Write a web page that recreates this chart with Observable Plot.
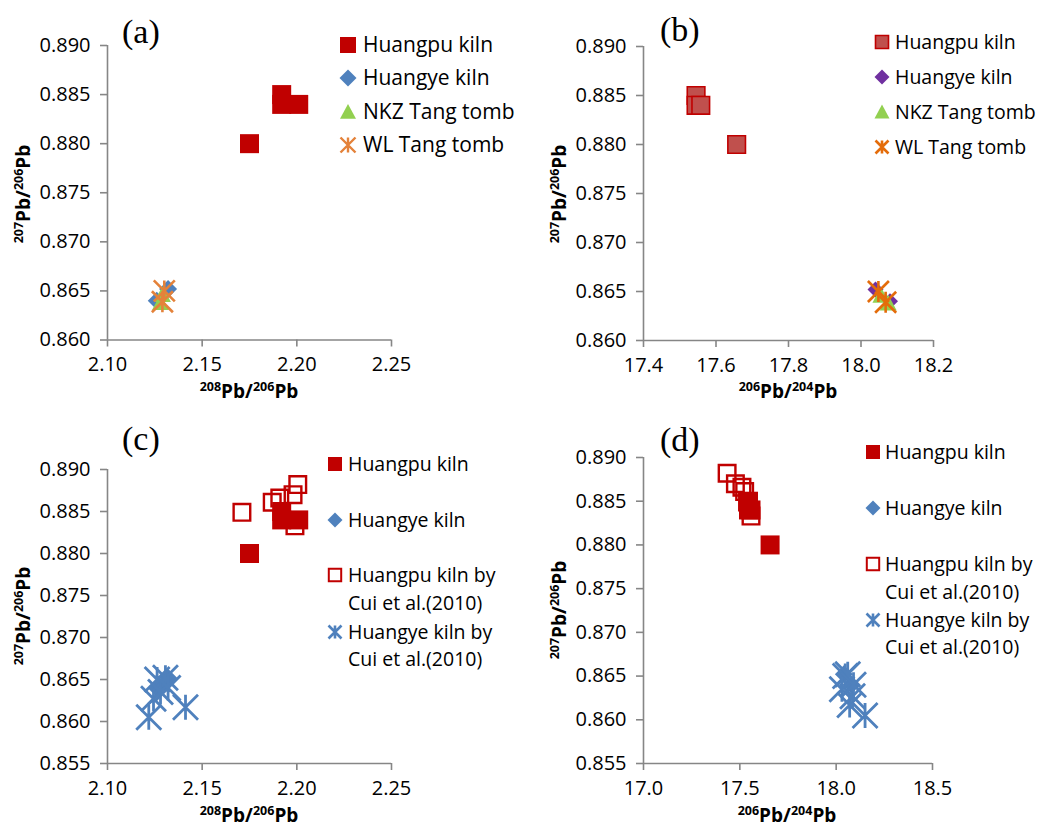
<!DOCTYPE html>
<html><head><meta charset="utf-8">
<script src="https://cdn.jsdelivr.net/npm/d3@7"></script>
<script src="https://cdn.jsdelivr.net/npm/@observablehq/plot@0.6"></script>
<style>
body{margin:0;background:#fff;}
#root{position:relative;width:1037px;height:827px;overflow:hidden;background:#fff;}
#root svg.plotpanel{position:absolute;overflow:visible;}
</style></head>
<body><div id="root"></div>
<script>
// ---------- data ----------
// own samples: 208Pb/206Pb, 206Pb/204Pb, 207Pb/206Pb
const huangpu208 = [2.175, 2.192, 2.192, 2.201];
const huangpu64  = [17.657, 17.545, 17.545, 17.558];
const huangpu76  = [0.8800, 0.8850, 0.8840, 0.8840];

const huangye208 = [2.132, 2.126];
const huangye64  = [18.040, 18.080];
const huangye76  = [0.8652, 0.8640];

const nkz208 = [2.129, 2.128];
const nkz64  = [18.055, 18.075];
const nkz76  = [0.8646, 0.8638];

const wl208 = [2.130, 2.129];
const wl64  = [18.048, 18.068];
const wl76  = [0.8650, 0.8639];

// Cui et al. (2010)
const cuiHuangpu208 = [2.171, 2.187, 2.191, 2.198, 2.2005, 2.199];
const cuiHuangpu64  = [17.540, 17.525, 17.511, 17.477, 17.434, 17.558];
const cuiHuangpu76  = [0.8849, 0.8861, 0.8866, 0.8870, 0.8882, 0.8833];

const cuiHuangye208 = [2.1218, 2.1412, 2.1243, 2.1262, 2.1306, 2.1280, 2.1320];
const cuiHuangye64  = [18.150, 18.070, 18.085, 18.047, 18.060, 18.030, 18.090];
const cuiHuangye76  = [0.8605, 0.8617, 0.8627, 0.8650, 0.8652, 0.8635, 0.8640];

// axes
const ticks208   = [2.10, 2.15, 2.20, 2.25];
const ticks64ab  = [17.4, 17.6, 17.8, 18.0, 18.2];
const ticks64cd  = [17.0, 17.5, 18.0, 18.5];
const ticks76ab  = [0.860, 0.865, 0.870, 0.875, 0.880, 0.885, 0.890];
const ticks76cd  = [0.855, 0.860, 0.865, 0.870, 0.875, 0.880, 0.885, 0.890];

const legendAB = ["Huangpu kiln", "Huangye kiln", "NKZ Tang tomb", "WL Tang tomb"];
const legendCD = [["Huangpu kiln"], ["Huangye kiln"], ["Huangpu kiln by", "Cui et al.(2010)"], ["Huangye kiln by", "Cui et al.(2010)"]];
const panelLabels = ["(a)", "(b)", "(c)", "(d)"];
const titleX = [["208", "Pb/"], ["206", "Pb"]];
const titleX2 = [["206", "Pb/"], ["204", "Pb"]];
const titleY = [["207", "Pb/"], ["206", "Pb"]];

// ---------- build tables ----------
const table = (a, b, c) => a.map((v, i) => ({r86: v, r64: b[i], r76: c[i]}));
const huangpu = table(huangpu208, huangpu64, huangpu76);
const huangye = table(huangye208, huangye64, huangye76);
const nkz = table(nkz208, nkz64, nkz76);
const wl = table(wl208, wl64, wl76);
const cuiHuangpu = table(cuiHuangpu208, cuiHuangpu64, cuiHuangpu76);
const cuiHuangye = table(cuiHuangye208, cuiHuangye64, cuiHuangye76);

// ---------- Excel-like symbols (r = half size) ----------
const half = s => Math.sqrt(s / Math.PI);
const SQ = {draw(c, s) { const h = half(s); c.moveTo(-h, -h); c.lineTo(h, -h); c.lineTo(h, h); c.lineTo(-h, h); c.closePath(); }};
const DI = {draw(c, s) { const h = half(s); c.moveTo(0, -h); c.lineTo(h, 0); c.lineTo(0, h); c.lineTo(-h, 0); c.closePath(); }};
const TR = {draw(c, s) { const h = half(s); c.moveTo(0, -h); c.lineTo(h, h * 0.85); c.lineTo(-h, h * 0.85); c.closePath(); }};
const ST = {draw(c, s) { const h = half(s); c.moveTo(-h, -h); c.lineTo(h, h); c.moveTo(-h, h); c.lineTo(h, -h); c.moveTo(0, -h); c.lineTo(0, h); }};

const GRAY = "#868686";
const root = document.getElementById("root");

function panel(o) {
  const svg = Plot.plot({
    width: o.width, height: o.height,
    marginLeft: o.ml, marginRight: o.mr, marginTop: o.mt, marginBottom: o.mb,
    x: {domain: o.xDomain}, y: {domain: o.yDomain},
    style: {fontFamily: "Open Sans", fontSize: "20px", color: "#000", background: "transparent", overflow: "visible"},
    marks: [
      Plot.ruleY([o.yDomain[0]], {x1: o.xDomain[0], x2: o.xDomain[1], stroke: GRAY, strokeWidth: 1.6}),
      Plot.ruleX([o.xDomain[0]], {y1: o.yDomain[0], y2: o.yDomain[1], stroke: GRAY, strokeWidth: 1.6}),
      Plot.axisX({ticks: o.xTicks, tickFormat: d3.format(o.xFmt), tickSize: 7, tickPadding: 10, stroke: GRAY, strokeWidth: 1.6, fill: "#000", label: null, fontSize: 20}),
      Plot.axisY({ticks: o.yTicks, tickFormat: d3.format(".3f"), tickSize: 7, tickPadding: 10, stroke: GRAY, strokeWidth: 1.6, fill: "#000", label: null, fontSize: 20}),
      ...o.marks
    ]
  });
  svg.classList.add("plotpanel");
  svg.style.left = o.left + "px";
  svg.style.top = o.top + "px";
  root.appendChild(svg);
}

// (a)
panel({left: 0, top: 0, width: 520, height: 410, ml: 107, mr: 129, mt: 45, mb: 70.5,
  xDomain: [2.10, 2.25], yDomain: [0.860, 0.890], xTicks: ticks208, yTicks: ticks76ab, xFmt: ".2f",
  marks: [
    Plot.dot(huangpu, {x: "r86", y: "r76", symbol: SQ, r: 9.5, fill: "#C00000", stroke: "none"}),
    Plot.dot(huangye, {x: "r86", y: "r76", symbol: DI, r: 9, fill: "#4F81BD", stroke: "none"}),
    Plot.dot(nkz, {x: "r86", y: "r76", symbol: TR, r: 8.5, fill: "#92D050", stroke: "none"}),
    Plot.dot(wl, {x: "r86", y: "r76", symbol: ST, r: 10.5, fill: "none", stroke: "#E4823A", strokeWidth: 2.6})
  ]});

// (b)
panel({left: 520, top: 0, width: 517, height: 410, ml: 123, mr: 104, mt: 46, mb: 70,
  xDomain: [17.4, 18.2], yDomain: [0.860, 0.890], xTicks: ticks64ab, yTicks: ticks76ab, xFmt: ".1f",
  marks: [
    Plot.dot(huangpu, {x: "r64", y: "r76", symbol: SQ, r: 8.8, fill: "#C0504D", stroke: "#C00000", strokeWidth: 1.6}),
    Plot.dot(huangye, {x: "r64", y: "r76", symbol: DI, r: 8, fill: "#7030A0", stroke: "none"}),
    Plot.dot(nkz, {x: "r64", y: "r76", symbol: TR, r: 8.5, fill: "#92D050", stroke: "none"}),
    Plot.dot(wl, {x: "r64", y: "r76", symbol: ST, r: 10.5, fill: "none", stroke: "#E46C0A", strokeWidth: 2.6})
  ]});

// (c)
panel({left: 0, top: 410, width: 520, height: 417, ml: 107, mr: 129, mt: 59, mb: 64,
  xDomain: [2.10, 2.25], yDomain: [0.855, 0.890], xTicks: ticks208, yTicks: ticks76cd, xFmt: ".2f",
  marks: [
    Plot.dot(cuiHuangpu, {x: "r86", y: "r76", symbol: SQ, r: 8.3, fill: "none", stroke: "#C00000", strokeWidth: 2.4}),
    Plot.dot(huangpu, {x: "r86", y: "r76", symbol: SQ, r: 9.5, fill: "#C00000", stroke: "none"}),
    Plot.dot(huangye, {x: "r86", y: "r76", symbol: DI, r: 9, fill: "#4F81BD", stroke: "none"}),
    Plot.dot(cuiHuangye, {x: "r86", y: "r76", symbol: ST, r: 12.5, fill: "none", stroke: "#4F81BD", strokeWidth: 2.8})
  ]});

// (d)
panel({left: 520, top: 410, width: 517, height: 417, ml: 123, mr: 105, mt: 47, mb: 64,
  xDomain: [17.0, 18.5], yDomain: [0.855, 0.890], xTicks: ticks64cd, yTicks: ticks76cd, xFmt: ".1f",
  marks: [
    Plot.dot(cuiHuangpu, {x: "r64", y: "r76", symbol: SQ, r: 8.3, fill: "none", stroke: "#C00000", strokeWidth: 2.4}),
    Plot.dot(huangpu, {x: "r64", y: "r76", symbol: SQ, r: 9.5, fill: "#C00000", stroke: "none"}),
    Plot.dot(huangye, {x: "r64", y: "r76", symbol: DI, r: 9, fill: "#4F81BD", stroke: "none"}),
    Plot.dot(cuiHuangye, {x: "r64", y: "r76", symbol: ST, r: 12.5, fill: "none", stroke: "#4F81BD", strokeWidth: 2.8})
  ]});

// ---------- overlay: labels, titles, legends ----------
const ov = d3.select(root).append("svg")
  .attr("width", 1037).attr("height", 827)
  .style("position", "absolute").style("left", "0px").style("top", "0px")
  .style("pointer-events", "none");

// panel labels
[[122, 43], [660, 41], [122, 450], [660, 451]].forEach(([x, y], i) => {
  ov.append("text").attr("x", x).attr("y", y)
    .attr("font-family", "Liberation Serif").attr("font-size", 34).attr("fill", "#000")
    .text(panelLabels[i]);
});

// axis titles with superscripts
function title(parts, x, y, rotate) {
  const t = ov.append("text")
    .attr("transform", `translate(${x},${y})` + (rotate ? " rotate(-90)" : ""))
    .attr("text-anchor", "middle").attr("font-family", "Open Sans")
    .attr("font-weight", "bold").attr("font-size", 19).attr("fill", "#000");
  parts.forEach(([sup, main]) => {
    t.append("tspan").attr("font-size", 12.5).attr("dy", -7).text(sup);
    t.append("tspan").attr("dy", 7).text(main);
  });
}
title(titleX, 249, 398, false);
title(titleX2, 788, 398, false);
title(titleY, 30, 194, true);
title(titleY, 566, 194, true);
title(titleX, 249, 822, false);
title(titleX2, 787, 822, false);
title(titleY, 30, 616, true);
title(titleY, 566, 610, true);

// legends
function legend(items, iconX, textX, rows, fs) {
  items.forEach((it, i) => {
    const cy = rows[i][0];
    const g = ov.append("g").attr("transform", `translate(${iconX},${cy})`);
    g.append("path").attr("d", d3.symbol(it.symbol, Math.PI * it.r * it.r)())
      .attr("fill", it.fill).attr("stroke", it.stroke || "none").attr("stroke-width", it.sw || 0);
    it.lines.forEach((line, j) => {
      ov.append("text").attr("x", textX).attr("y", rows[i][j] + 0.357 * fs)
        .attr("font-family", "Open Sans").attr("font-size", fs).attr("fill", "#000").text(line);
    });
  });
}
legend([
  {symbol: SQ, r: 8, fill: "#C00000", lines: [legendAB[0]]},
  {symbol: DI, r: 8.5, fill: "#4F81BD", lines: [legendAB[1]]},
  {symbol: TR, r: 8, fill: "#92D050", lines: [legendAB[2]]},
  {symbol: ST, r: 7.5, fill: "none", stroke: "#E4823A", sw: 2.4, lines: [legendAB[3]]}
], 348, 363, [[45], [78], [112], [145]], 21);

legend([
  {symbol: SQ, r: 6.5, fill: "#C0504D", stroke: "#C00000", sw: 1.6, lines: [legendAB[0]]},
  {symbol: DI, r: 7.5, fill: "#7030A0", lines: [legendAB[1]]},
  {symbol: TR, r: 7.5, fill: "#92D050", lines: [legendAB[2]]},
  {symbol: ST, r: 6.5, fill: "none", stroke: "#E46C0A", sw: 2.6, lines: [legendAB[3]]}
], 882, 895, [[42], [77], [112], [147]], 19.5);

legend([
  {symbol: SQ, r: 7, fill: "#C00000", lines: legendCD[0]},
  {symbol: DI, r: 7.5, fill: "#4F81BD", lines: legendCD[1]},
  {symbol: SQ, r: 6.2, fill: "none", stroke: "#C00000", sw: 2, lines: legendCD[2]},
  {symbol: ST, r: 6.5, fill: "none", stroke: "#4F81BD", sw: 2.6, lines: legendCD[3]}
], 335, 348, [[464], [520], [575, 603], [632, 659]], 19.5);

legend([
  {symbol: SQ, r: 7, fill: "#C00000", lines: legendCD[0]},
  {symbol: DI, r: 7.5, fill: "#4F81BD", lines: legendCD[1]},
  {symbol: SQ, r: 6.2, fill: "none", stroke: "#C00000", sw: 2, lines: legendCD[2]},
  {symbol: ST, r: 6.5, fill: "none", stroke: "#4F81BD", sw: 2.6, lines: legendCD[3]}
], 873, 885, [[452], [508], [564, 592], [620, 647]], 19.5);
</script>
</body></html>
